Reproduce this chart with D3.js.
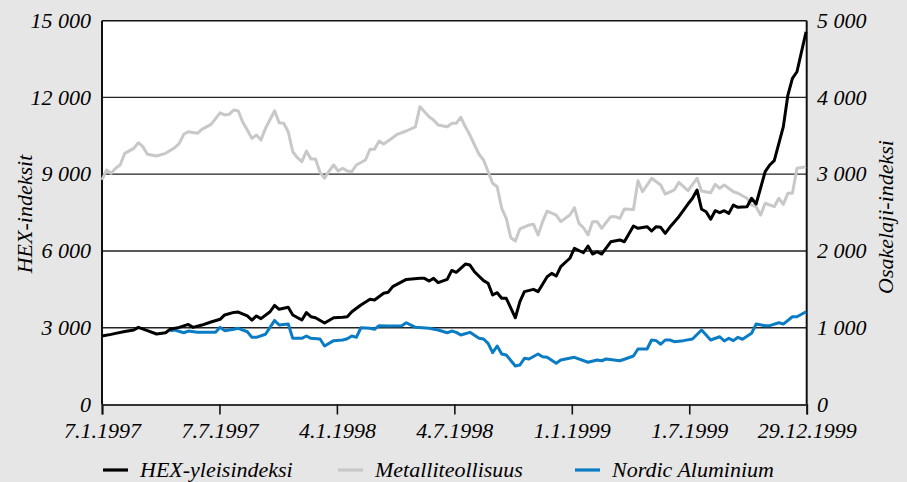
<!DOCTYPE html>
<html><head><meta charset="utf-8">
<script src="https://cdn.jsdelivr.net/npm/d3@7"></script>
<style>
html,body{margin:0;padding:0;background:#e6e6e6;}
svg{display:block;}
</style></head><body>
<svg id="chart" width="907" height="482"></svg>
<script>
// ---- data (weekly observations; week index counted from 7.1.1997) ----
const startDate = "1997-01-07";
const endDate = "1999-12-29";

const hexWeeks = [0,2,3,5,7,8,10,12,14,15,17,19,20,22,24,26,27,29,30,32,33,34,35,37,38,39,41,42,44,45,46,47,49,51,53,54,55,57,59,60,62,63,64,67,70,71,72,73,74,76,77,78,80,81,82,84,85,86,87,88,89,91,92,93,95,96,98,99,100,101,103,104,106,107,108,109,110,112,114,115,117,118,120,121,122,123,124,125,127,129,130,131,132,133,134,135,136,137,138,139,140,142,143,144,146,147,148,150,151,152,153,155];
const hexValues = [2680,2740,2780,2850,2910,3015,2885,2755,2805,2940,3015,3130,3015,3105,3225,3330,3500,3600,3615,3460,3300,3460,3355,3625,3875,3720,3800,3500,3300,3590,3430,3390,3185,3390,3410,3430,3625,3890,4110,4085,4345,4385,4605,4890,4930,4930,4825,4930,4760,4890,5240,5165,5490,5450,5190,4840,4740,4280,4370,4150,4150,3390,4020,4410,4500,4410,4995,5125,5020,5385,5715,6105,5930,6195,5880,5970,5880,6360,6430,6360,6975,6885,6950,6780,6950,6925,6690,6925,7340,7835,8060,8385,7630,7535,7240,7575,7495,7575,7470,7795,7705,7730,8060,7835,9100,9360,9530,10860,12095,12750,13005,14560];

const metalWeeks = [0,1,2,3,4,5,7,8,9,10,12,14,16,17,18,19,21,22,24,26,27,28,29,30,31,32,33,34,35,36,38,39,40,41,42,43,44,45,46,47,48,49,50,51,52,53,54,55,56,58,59,60,61,62,64,65,67,69,70,72,73,74,76,77,78,79,80,81,83,84,86,87,88,89,90,91,92,94,95,96,97,98,100,101,103,104,105,106,107,108,109,110,112,113,114,115,117,118,119,121,123,124,126,127,129,131,132,134,135,136,137,139,140,142,143,144,145,146,148,149,150,151,152,153,155];
const metalValues = [2925,3055,3012,3077,3120,3272,3337,3410,3358,3260,3237,3272,3345,3402,3520,3553,3533,3585,3650,3800,3772,3780,3837,3823,3677,3577,3467,3510,3445,3598,3827,3670,3663,3553,3293,3215,3163,3302,3198,3198,3025,2947,3042,3120,3042,3077,3042,3033,3120,3185,3325,3325,3433,3393,3475,3520,3563,3618,3880,3748,3707,3642,3618,3663,3663,3742,3618,3510,3260,3185,2882,2837,2555,2425,2173,2130,2287,2338,2347,2208,2382,2520,2468,2382,2468,2563,2360,2303,2208,2382,2382,2295,2447,2447,2425,2547,2540,2915,2772,2947,2860,2742,2795,2895,2785,2947,2782,2758,2868,2817,2860,2772,2752,2687,2598,2577,2468,2622,2577,2687,2608,2752,2752,3077,3098];

const nordicWeeks = [15,16,18,19,21,23,25,26,27,29,30,32,33,34,36,38,39,41,42,44,45,46,48,49,51,53,54,55,56,57,59,60,61,63,66,67,69,72,74,76,77,78,79,81,83,84,85,86,87,88,89,91,92,93,94,96,97,98,100,101,104,107,109,110,111,114,115,117,118,120,121,122,123,124,125,126,128,130,132,133,134,136,137,138,139,140,141,143,144,146,147,149,150,152,153,155];
const nordicValues = [962,970,935,957,940,940,940,1005,962,980,993,948,875,875,915,1095,1035,1048,862,862,892,862,853,762,832,840,857,892,875,1000,993,980,1027,1023,1027,1065,1005,993,970,935,957,940,905,940,862,853,797,675,762,658,645,502,515,602,593,658,623,615,537,580,615,550,580,570,593,570,590,632,723,723,840,832,785,840,840,818,832,853,970,905,840,883,827,862,832,875,850,927,1048,1027,1027,1065,1048,1143,1143,1208];

const seriesNames = ["HEX-yleisindeksi","Metalliteollisuus","Nordic Aluminium"];
const seriesColors = ["#000000","#c8c8c8","#0a7cc4"];

const xTickDates = ["1997-01-07","1997-07-07","1998-01-04","1998-07-04","1999-01-01","1999-07-01","1999-12-29"];
const xTickLabels = ["7.1.1997","7.7.1997","4.1.1998","4.7.1998","1.1.1999","1.7.1999","29.12.1999"];
const leftTicks = [0,3000,6000,9000,12000,15000];
const leftTickLabels = ["0","3 000","6 000","9 000","12 000","15 000"];
const rightTicks = [0,1000,2000,3000,4000,5000];
const rightTickLabels = ["0","1 000","2 000","3 000","4 000","5 000"];
const leftTitle = "HEX-indeksit";
const rightTitle = "Osakelaji-indeksi";

// ---- drawing ----
const FONT = "Liberation Serif";
const FS = 22;
const svg = d3.select("#chart");
const parse = d3.utcParse("%Y-%m-%d");
const L = 102, R = 806.7, T = 20.7, B = 404.5;

const x = d3.scaleUtc().domain([parse(startDate), parse(endDate)]).range([L, R]);
const yL = d3.scaleLinear().domain([0, 15000]).range([B, T]);
const yR = d3.scaleLinear().domain([0, 5000]).range([B, T]);
const weekDate = w => d3.utcDay.offset(parse(startDate), w * 7);

const styleText = sel => sel.attr("font-family", FONT).attr("font-style", "italic")
  .attr("font-size", FS).attr("fill", "#000");

svg.append("rect").attr("width", 907).attr("height", 482).attr("fill", "#e6e6e6");
svg.append("rect").attr("x", L).attr("y", T).attr("width", R - L).attr("height", B - T).attr("fill", "#fff");

// grid lines
svg.append("g").selectAll("line").data(leftTicks.filter(v => v > 0 && v < 15000)).join("line")
  .attr("x1", L).attr("x2", R).attr("y1", d => yL(d)).attr("y2", d => yL(d))
  .attr("stroke", "#222").attr("stroke-width", 1.3);

// frame
svg.append("line").attr("x1", L).attr("x2", R).attr("y1", T).attr("y2", T).attr("stroke", "#111").attr("stroke-width", 1.6);
svg.append("line").attr("x1", L).attr("x2", L).attr("y1", T).attr("y2", B).attr("stroke", "#111").attr("stroke-width", 2);
svg.append("line").attr("x1", R).attr("x2", R).attr("y1", T).attr("y2", B).attr("stroke", "#111").attr("stroke-width", 2);

// series lines
const mkLine = (weeks, vals, scale) => d3.line()
  .x((d, i) => x(weekDate(weeks[i])))
  .y((d, i) => scale(vals[i]))(vals);

svg.append("path").attr("d", mkLine(metalWeeks, metalValues, yR))
  .attr("fill", "none").attr("stroke", seriesColors[1]).attr("stroke-width", 3).attr("stroke-linejoin", "round");
svg.append("path").attr("d", mkLine(nordicWeeks, nordicValues, yR))
  .attr("fill", "none").attr("stroke", seriesColors[2]).attr("stroke-width", 3).attr("stroke-linejoin", "round");
svg.append("path").attr("d", mkLine(hexWeeks, hexValues, yL))
  .attr("fill", "none").attr("stroke", seriesColors[0]).attr("stroke-width", 3).attr("stroke-linejoin", "round");

// x axis
const xAxis = d3.axisBottom(x)
  .tickValues(xTickDates.map(parse))
  .tickFormat((d, i) => xTickLabels[i])
  .tickSize(10).tickPadding(8);
const gx = svg.append("g").attr("transform", `translate(0,${B})`).call(xAxis)
  .attr("font-family", FONT);
gx.select(".domain").attr("stroke", "#333").attr("stroke-width", 2);
gx.selectAll(".tick line").attr("stroke", "#111").attr("stroke-width", 1.6);
gx.selectAll(".tick text").call(styleText);

// left axis labels
svg.append("g").selectAll("text").data(leftTicks).join("text")
  .attr("x", 91).attr("y", d => yL(d)).attr("dy", "0.33em")
  .attr("text-anchor", "end").call(styleText)
  .text((d, i) => leftTickLabels[i]);

// right axis labels
svg.append("g").selectAll("text").data(rightTicks).join("text")
  .attr("x", 817).attr("y", d => yR(d)).attr("dy", "0.33em")
  .attr("text-anchor", "start").call(styleText)
  .text((d, i) => rightTickLabels[i]);

// axis titles
svg.append("text").attr("transform", "translate(32,214) rotate(-90)")
  .attr("text-anchor", "middle").call(styleText).text(leftTitle);
svg.append("text").attr("transform", "translate(893,217) rotate(-90)")
  .attr("text-anchor", "middle").call(styleText).text(rightTitle);

// legend
const legX = [103, 338, 575];
const lg = svg.append("g");
seriesNames.forEach((name, i) => {
  lg.append("line").attr("x1", legX[i]).attr("x2", legX[i] + 25).attr("y1", 470).attr("y2", 470)
    .attr("stroke", seriesColors[i]).attr("stroke-width", 3.2);
  lg.append("text").attr("x", legX[i] + 37).attr("y", 477).call(styleText).text(name);
});
</script>
</body></html>
